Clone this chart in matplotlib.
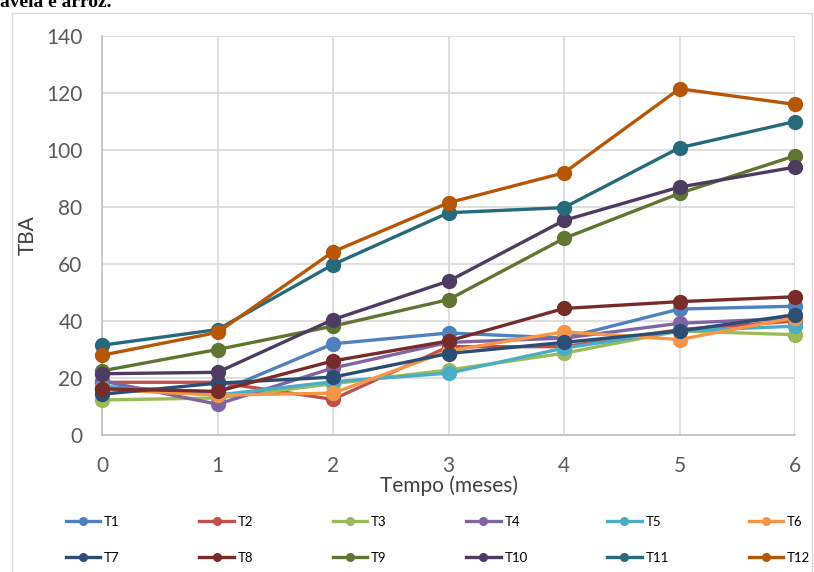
import matplotlib.pyplot as plt
from matplotlib.patches import Rectangle

# Tempo de armazenamento (meses)
meses = [0, 1, 2, 3, 4, 5, 6]

# Valores de TBA por tratamento
t1 = [17.0, 15.0, 32.0, 35.8, 34.0, 44.2, 45.2]
t2 = [18.5, 18.5, 12.5, 31.0, 31.0, 37.0, 40.0]
t3 = [12.3, 13.0, 18.0, 22.8, 28.7, 36.5, 35.2]
t4 = [19.0, 10.8, 23.5, 32.5, 34.0, 39.2, 41.0]
t5 = [17.0, 14.0, 18.7, 21.7, 30.5, 36.5, 38.2]
t6 = [16.0, 14.0, 14.7, 29.5, 36.2, 33.5, 41.2]
t7 = [14.3, 18.2, 20.3, 28.6, 32.5, 36.5, 42.2]
t8 = [16.2, 15.3, 26.0, 33.0, 44.4, 46.8, 48.5]
t9 = [22.5, 30.0, 38.2, 47.5, 69.0, 84.8, 98.0]
t10 = [21.5, 22.0, 40.5, 54.0, 75.3, 87.0, 94.0]
t11 = [31.5, 37.0, 59.8, 78.0, 79.8, 100.8, 110.0]
t12 = [28.0, 36.0, 64.3, 81.5, 92.0, 121.5, 116.0]

series = [t1, t2, t3, t4, t5, t6, t7, t8, t9, t10, t11, t12]
nomes = ['T1', 'T2', 'T3', 'T4', 'T5', 'T6', 'T7', 'T8', 'T9', 'T10', 'T11', 'T12']
cores = ['#4F81BD', '#C0504D', '#9BBB59', '#8064A2', '#4BACC6', '#F79646',
         '#2C4D75', '#772C2A', '#5F7530', '#4D3B62', '#276A7C', '#B65708']

plt.rcParams['font.family'] = ['Lato', 'DejaVu Sans']

fig = plt.figure(figsize=(8.14, 5.72), dpi=100)
ax = fig.add_axes([0.1253, 0.2395, 0.8514, 0.6975])

# moldura do gráfico
fig.patches.append(Rectangle((12 / 814, -0.01), 800 / 814, 1 - 13 / 572 + 0.01,
                             transform=fig.transFigure, fill=False,
                             edgecolor='#D9D9D9', linewidth=1.0))

# final da frase do texto acima do gráfico
fig.text(0.0, 1 - 7 / 572, 'aveia e arroz.', family='Liberation Serif',
         fontweight='bold', fontsize=14, va='baseline', ha='left')

linhas = []
for valores, nome, cor in zip(series, nomes, cores):
    ln, = ax.plot(meses, valores, color=cor, linewidth=2.4, marker='o',
                  markersize=10, label=nome, clip_on=False, zorder=3)
    linhas.append(ln)

ax.set_xlim(0, 6)
ax.set_ylim(0, 140)
ax.set_yticks(range(0, 141, 20))
ax.set_xticks(meses)
ax.grid(True, color='#D9D9D9', linewidth=1.2)
ax.set_axisbelow(True)
for lado in ['top', 'right']:
    ax.spines[lado].set_visible(False)
for lado in ['left', 'bottom']:
    ax.spines[lado].set_color('#BFBFBF')
    ax.spines[lado].set_linewidth(1.2)
ax.tick_params(axis='both', length=0, labelsize=15, labelcolor='#595959')
ax.tick_params(axis='x', pad=15)
ax.tick_params(axis='y', pad=14)

ax.set_xlabel('Tempo (meses)', fontsize=15, color='#404040', labelpad=0)
ax.set_ylabel('TBA', fontsize=15, color='#404040', labelpad=6)

# legenda em duas linhas: T1-T6 em cima, T7-T12 embaixo
ordem = [0, 6, 1, 7, 2, 8, 3, 9, 4, 10, 5, 11]
ax.legend([linhas[i] for i in ordem], [nomes[i] for i in ordem],
          loc='lower left', bbox_to_anchor=(58 / 814, 0.0, 760 / 814, 0.14),
          bbox_transform=fig.transFigure, ncol=6, mode='expand', frameon=False,
          fontsize=9.5, handlelength=2.6, handletextpad=0.3, markerscale=0.55,
          labelspacing=1.85, borderaxespad=0.2)

fig.savefig('out.png', dpi=100)
